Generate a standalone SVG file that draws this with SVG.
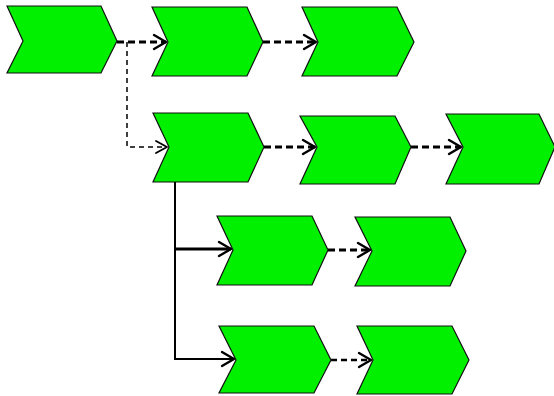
<svg xmlns="http://www.w3.org/2000/svg" width="554" height="396" viewBox="0 0 554 396">
<style>
.n{fill:#00f000;stroke:#111;stroke-width:1.2}
.c{fill:none;stroke:#000}
.d3{stroke-width:3;stroke-dasharray:7 4}
.d2{stroke-width:2.4;stroke-dasharray:6 4}
.d1{stroke-width:1.5;stroke-dasharray:5 4}
.s3{stroke-width:2.8}
.s2{stroke-width:2}
.h{fill:none;stroke:#000;stroke-width:2.4;stroke-linecap:round;stroke-linejoin:round}
</style>
<rect width="554" height="396" fill="#fff"/>
<g id="n1"><polygon class="n" points="7,6 101,6 117,41 101,73 7,73 23,41"/></g>
<g id="n2"><polygon class="n" points="152,7 247,7 263,42 247,76 152,76 168,42"/></g>
<g id="n3"><polygon class="n" points="302,7 397,7 414,42 397,76 302,76 318,42"/></g>
<g id="n4"><polygon class="n" points="153,113 248,113 264,147 248,182 153,182 169,147"/></g>
<g id="n5"><polygon class="n" points="300,116 395,116 411,147 395,184 300,184 317,147"/></g>
<g id="n6"><polygon class="n" points="446,114 539,114 555,147 539,184 446,184 463,147"/></g>
<g id="n7"><polygon class="n" points="217,216 312,216 328,250 312,285 217,285 233,250"/></g>
<g id="n8"><polygon class="n" points="355,217 450,217 466,251 450,286 355,286 372,251"/></g>
<g id="n9"><polygon class="n" points="219,326 314,326 331,360 314,393 219,393 236,360"/></g>
<g id="n10"><polygon class="n" points="357,326 452,326 469,360 452,394 357,394 373,360"/></g>
<g id="connectors">
<path class="c d3" d="M117,42 H166"/>
<path class="h" d="M154,35 L166,42 L154,49"/>
<path class="c d1" d="M127,42 V147 H167"/>
<path class="h" d="M156,141 L167,147 L156,153" style="stroke-width:1.8"/>
<path class="c d3" d="M263,42 H316"/>
<path class="h" d="M304,35 L316,42 L304,49"/>
<path class="c d3" d="M264,147 H315"/>
<path class="h" d="M303,140 L315,147 L303,154"/>
<path class="c d3" d="M411,147 H461"/>
<path class="h" d="M449,140 L461,147 L449,154"/>
<path class="c s2" d="M175,182 V359 H234"/>
<path class="c s3" d="M175,249 H231"/>
<path class="h" d="M219,242 L231,249 L219,256"/>
<path class="h" d="M222,352 L234,359 L222,366"/>
<path class="c d3" d="M328,250 H370"/>
<path class="h" d="M358,243 L370,250 L358,257"/>
<path class="c d2" d="M331,360 H371"/>
<path class="h" d="M359,353 L371,360 L359,367"/>
</g>
</svg>
